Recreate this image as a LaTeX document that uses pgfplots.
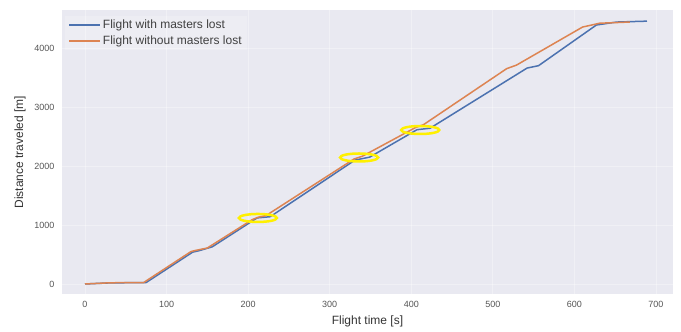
\documentclass[border=0pt]{standalone}
\usepackage{pgfplots}
\pgfplotsset{compat=1.18}
\usepackage{fontspec}
\setmainfont{Liberation Sans}
\definecolor{sbblue}{HTML}{4C72B0}
\definecolor{sborange}{HTML}{DD8452}
\definecolor{sbbg}{HTML}{E9E9F1}
\definecolor{ticktext}{HTML}{555555}
\definecolor{hl}{HTML}{FFF000}
\begin{document}
\begin{tikzpicture}
\begin{axis}[
  scale only axis,
  width=611pt, height=284pt,
  xmin=-28.2, xmax=720.9,
  ymin=-170, ymax=4644,
  xtick={0,100,...,700},
  ytick={0,1000,...,4000},
  axis background/.style={fill=sbbg},
  axis line style={draw=none},
  tick style={draw=none},
  grid=major,
  major grid style={white, opacity=0.35, line width=0.8pt},
  /pgf/number format/assume math mode=true,
  /pgf/number format/1000 sep={},
  ticklabel style={font=\fontsize{9}{10}\selectfont, text=ticktext},
  xticklabel style={yshift=-4pt},
  yticklabel style={xshift=-4pt},
  xlabel={Flight time [s]},
  ylabel={Distance traveled [m]},
  label style={font=\fontsize{12}{14}\selectfont, text=black!80},
  xlabel style={yshift=-1pt},
  ylabel style={yshift=2pt},
  legend style={at={(rel axis cs:0,1)}, anchor=north west, xshift=3pt, yshift=-5.5pt,
    draw=none, fill=white, fill opacity=0.2, text opacity=1,
    font=\fontsize{12}{14}\selectfont, text=black!75,
    row sep=2pt},
  legend cell align=left,
  legend image code/.code={\path (0pt,0pt) -- (31pt,0pt); \draw[#1, line width=2pt, opacity=1] (0pt,0pt) -- (24pt,0pt);},
]
\coordinate (SW) at (rel axis cs:0,0);
\coordinate (NE) at (rel axis cs:1,1);
\addplot[sbblue, line width=1.5pt, line join=round] coordinates {
(0,0) (30,18) (75,25) (132,540) (140,565) (156,630) (211,1120) (227,1140)
(331,2100) (349,2150) (407,2615) (423,2640) (542,3660) (556,3700)
(627,4390) (652,4440) (689,4455)};
\addlegendentry{Flight with masters lost}
\addplot[sborange, line width=1.5pt, line join=round] coordinates {
(0,0) (30,20) (72,25) (130,550) (136,570) (150,610) (205,1090) (212,1130)
(222,1160) (330,2120) (340,2165) (405,2650) (415,2700) (517,3650) (529,3710)
(610,4355) (631,4420) (668,4440)};
\addlegendentry{Flight without masters lost}
\draw[hl, line width=2.5pt] (axis cs:212,1119) ellipse [x radius=19pt, y radius=4pt];
\draw[hl, line width=2.5pt] (axis cs:336,2144) ellipse [x radius=19pt, y radius=4pt];
\draw[hl, line width=2.5pt] (axis cs:411,2610) ellipse [x radius=19pt, y radius=4pt];
\end{axis}
\pgfresetboundingbox
\path ([shift={(-62pt,-37pt)}]SW) rectangle ([shift={(8pt,10pt)}]NE);
\end{tikzpicture}
\end{document}
